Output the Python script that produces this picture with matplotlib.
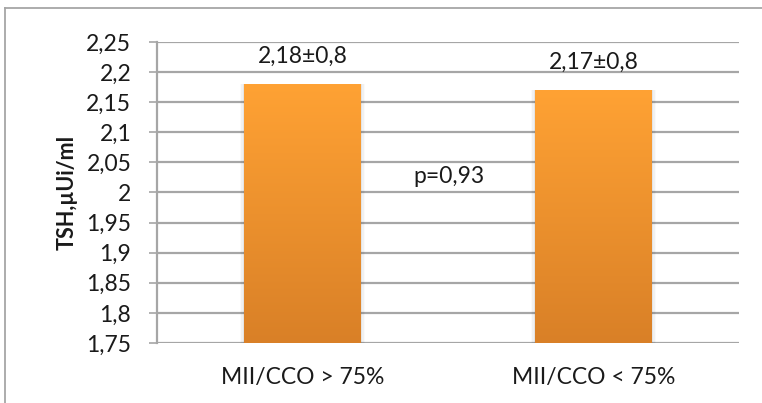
import matplotlib
matplotlib.use("Agg")
import matplotlib.pyplot as plt
import numpy as np
from matplotlib.colors import LinearSegmentedColormap
from matplotlib.lines import Line2D

plt.rcParams['font.family'] = ['Lato', 'DejaVu Sans']

# Data
categories = ["MII/CCO > 75%", "MII/CCO < 75%"]
tsh_means = [2.18, 2.17]
bar_labels = ["2,18±0,8", "2,17±0,8"]
p_text = "p=0,93"
y_ticks = [1.75, 1.8, 1.85, 1.9, 1.95, 2.0, 2.05, 2.1, 2.15, 2.2, 2.25]
y_tick_labels = ["1,75", "1,8", "1,85", "1,9", "1,95", "2", "2,05", "2,1", "2,15", "2,2", "2,25"]
y_label = "TSH,µUi/ml"

FS = 16.5
TEXT = "#1a1a1a"

fig = plt.figure(figsize=(7.62, 4.03), dpi=100)
ax = fig.add_axes([0.206, 0.149, 0.764, 0.747])

ymin, ymax = 1.75, 2.25
ax.set_ylim(ymin, ymax)
ax.set_xlim(-0.5, 1.5)

grid_color = "#A6A6A6"
ax.set_yticks(y_ticks)
ax.set_yticklabels(y_tick_labels, fontsize=FS, color=TEXT)
ax.yaxis.grid(True, color=grid_color, linewidth=1.6, zorder=0)
ax.set_axisbelow(True)
ax.tick_params(axis='y', length=5.5, width=1.2, color=grid_color, pad=13)
ax.tick_params(axis='x', length=0, pad=17)
ax.set_xticks(range(len(categories)))
ax.set_xticklabels(categories, fontsize=FS, color=TEXT)

for s in ["top", "right", "bottom"]:
    ax.spines[s].set_visible(False)
ax.spines["left"].set_color(grid_color)
ax.spines["left"].set_linewidth(1.6)

ax.set_ylabel(y_label, fontsize=15.5, fontweight="bold", color=TEXT)
ax.yaxis.set_label_coords(-0.136, 0.5)

# Bars with a vertical orange gradient and soft side shadow
cmap = LinearSegmentedColormap.from_list("orange_grad", ["#D98027", "#FFA234"])
grad = np.linspace(0, 1, 256).reshape(-1, 1)
width = 0.40
bars = ax.bar(range(len(categories)), [v - ymin for v in tsh_means], bottom=ymin,
              width=width, color="none", edgecolor="none", zorder=3)
for bar in bars:
    x0 = bar.get_x()
    x1 = x0 + bar.get_width()
    top = bar.get_y() + bar.get_height()
    # shadow
    for k, a in enumerate([0.05, 0.035, 0.02]):
        d = 0.005 * (k + 1)
        ax.add_patch(plt.Rectangle((x0 - d, ymin), (x1 - x0) + 2 * d, top - ymin,
                                   facecolor="black", alpha=a, edgecolor="none", zorder=2))
    im = ax.imshow(grad, extent=[x0, x1, ymin, top], origin="lower", cmap=cmap,
                   aspect="auto", zorder=3)
    im.set_clip_path(bar)

ax.set_xlim(-0.5, 1.5)
ax.set_ylim(ymin, ymax)

for i, (v, lab) in enumerate(zip(tsh_means, bar_labels)):
    ax.annotate(lab, xy=(i, v), xytext=(0, 20), textcoords="offset points",
                ha="center", va="center", fontsize=FS, color=TEXT, zorder=5)

ax.text(0.503, 2.026, p_text, ha="center", va="center", fontsize=FS, color=TEXT, zorder=5)

# Chart area border (left and top edges)
fig.add_artist(Line2D([5 / 762, 5 / 762], [0, 1 - 8 / 403], transform=fig.transFigure,
                      color="#A6A6A6", linewidth=1.3))
fig.add_artist(Line2D([5 / 762, 1], [1 - 8 / 403, 1 - 8 / 403], transform=fig.transFigure,
                      color="#A6A6A6", linewidth=1.3))

fig.savefig("out.png", dpi=100)
